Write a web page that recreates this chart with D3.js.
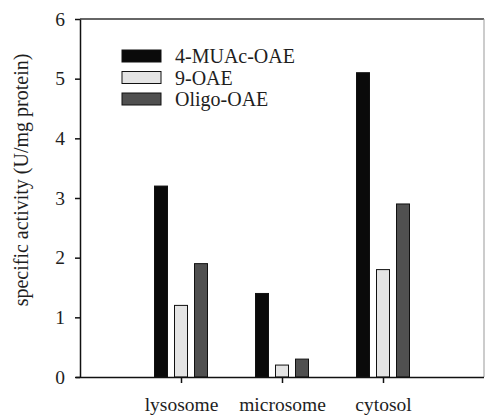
<!DOCTYPE html>
<html>
<head>
<meta charset="utf-8">
<script src="https://cdn.jsdelivr.net/npm/d3@7"></script>
<style>
  html, body { margin: 0; padding: 0; background: #fff; }
  svg { display: block; }
</style>
</head>
<body>
<svg id="chart" width="485" height="417"></svg>
<script>
// ---- data ----
const categories = ["lysosome", "microsome", "cytosol"];
const seriesNames = ["4-MUAc-OAE", "9-OAE", "Oligo-OAE"];
const muacValues = [3.2, 1.4, 5.1];
const oaeValues = [1.2, 0.2, 1.8];
const oligoValues = [1.9, 0.3, 2.9];
const yTicks = [0, 1, 2, 3, 4, 5, 6];
const yLabel = "specific activity (U/mg protein)";

const seriesValues = [muacValues, oaeValues, oligoValues];
const fills = ["#0a0a0a", "#e4e4e4", "#505050"];
const FONT = "'Liberation Serif', 'Times New Roman', Times, 'DejaVu Serif', serif";
const INK = "#1e1e1e";

// ---- layout ----
const svg = d3.select("#chart");
const mLeft = 80, mRight = 484, mTop = 19, mBottom = 377;

const x = d3.scalePoint().domain(categories).range([mLeft, mRight]).padding(1);
const inner = d3.scaleBand().domain(seriesNames).range([-30, 30])
  .paddingInner(0.35).paddingOuter(0.175);
const y = d3.scaleLinear().domain([0, 6]).range([mBottom, mTop]);

// frame top + right
svg.append("line").attr("x1", mLeft).attr("x2", mRight).attr("y1", mTop).attr("y2", mTop)
  .attr("stroke", "#333").attr("stroke-width", 1.5);
svg.append("line").attr("x1", mRight).attr("x2", mRight).attr("y1", mTop).attr("y2", mBottom)
  .attr("stroke", "#999").attr("stroke-width", 1);

// bars
const rows = [];
categories.forEach((c, i) => {
  seriesNames.forEach((s, j) => rows.push({ c, s, j, v: seriesValues[j][i] }));
});
svg.append("g").selectAll("rect").data(rows).join("rect")
  .attr("x", d => x(d.c) + inner(d.s))
  .attr("width", inner.bandwidth())
  .attr("y", d => y(d.v))
  .attr("height", d => y(0) - y(d.v))
  .attr("fill", d => fills[d.j])
  .attr("stroke", "#111")
  .attr("stroke-width", 1);

// y axis
const yAxis = svg.append("g").attr("transform", `translate(${mLeft},0)`)
  .call(d3.axisLeft(y).tickValues(yTicks).tickFormat(d3.format("d"))
    .tickSize(5).tickPadding(10).tickSizeOuter(0));
yAxis.attr("font-family", null).attr("font-size", null);
yAxis.select(".domain").attr("stroke", "#111").attr("stroke-width", 1.5);
yAxis.selectAll(".tick line").attr("stroke", "#111").attr("stroke-width", 1.5);
yAxis.selectAll("text").style("font-family", FONT).style("font-size", "19.5px").attr("fill", INK);

// x axis
const xAxis = svg.append("g").attr("transform", `translate(0,${mBottom})`)
  .call(d3.axisBottom(x).tickSize(6).tickPadding(14).tickSizeOuter(0));
xAxis.attr("font-family", null).attr("font-size", null);
xAxis.select(".domain").attr("d", `M${mLeft - 4},0.5H${mRight}`)
  .attr("stroke", "#111").attr("stroke-width", 1.5);
xAxis.selectAll(".tick line").attr("stroke", "#111").attr("stroke-width", 1.5);
xAxis.selectAll("text").style("font-family", FONT).style("font-size", "19.5px").attr("fill", INK);

// y label
svg.append("text")
  .attr("transform", "translate(28,180) rotate(-90)")
  .attr("text-anchor", "middle")
  .style("font-family", FONT)
  .style("font-size", "20px")
  .attr("fill", INK)
  .text(yLabel);

// legend
const legend = svg.append("g");
seriesNames.forEach((s, j) => {
  const yy = 50 + j * 21.5;
  legend.append("rect").attr("x", 122).attr("y", yy).attr("width", 39).attr("height", 12)
    .attr("fill", fills[j]).attr("stroke", "#111").attr("stroke-width", 1);
  legend.append("text").attr("x", 175).attr("y", yy + 13)
    .style("font-family", FONT)
    .style("font-size", "20px").attr("fill", INK).text(s);
});
</script>
</body>
</html>
